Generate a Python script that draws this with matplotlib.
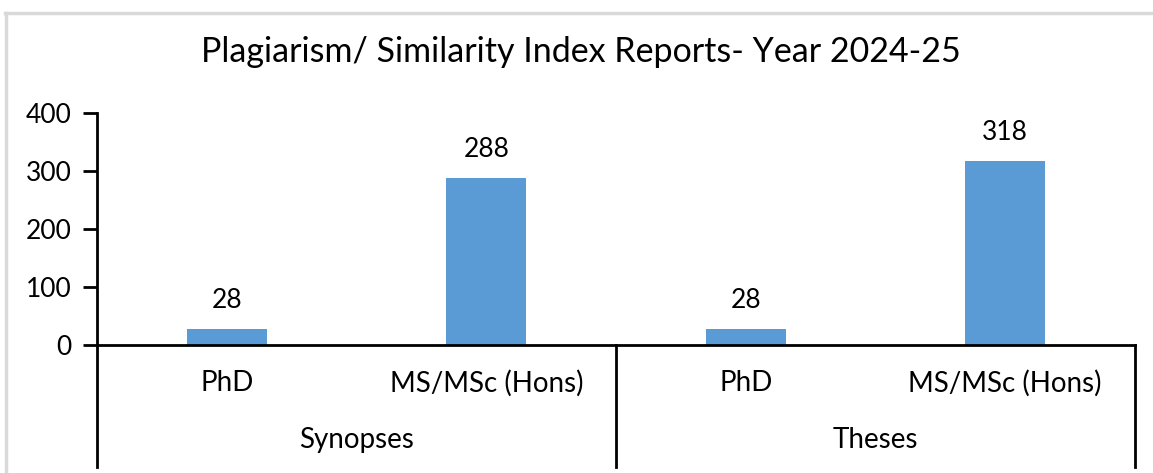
import matplotlib.pyplot as plt
from matplotlib.lines import Line2D

# data
groups = ['Synopses', 'Theses']
programmes = ['PhD', 'MS/MSc (Hons)', 'PhD', 'MS/MSc (Hons)']
counts = [28, 288, 28, 318]
yticks = [0, 100, 200, 300, 400]
title = 'Plagiarism/ Similarity Index Reports- Year 2024-25'

plt.rcParams['font.family'] = ['Lato', 'DejaVu Sans']

W, H = 1153, 473
fig = plt.figure(figsize=(W / 100, H / 100), dpi=100)

# light gray frame (top and left edges visible)
fig.add_artist(Line2D([5 / W, 1.0], [1 - 13.5 / H, 1 - 13.5 / H], color='#d9d9d9', lw=2.5))
fig.add_artist(Line2D([6 / W, 6 / W], [0, 1 - 13.5 / H], color='#d9d9d9', lw=2.5))

x0, x1 = 97, 1135
y0, y1 = 345, 113
ax = fig.add_axes([x0 / W, 1 - y0 / H, (x1 - x0) / W, (y0 - y1) / H])

xs = list(range(len(counts)))
bars = ax.bar(xs, counts, width=0.31, color='#5b9bd5')
for b, v in zip(bars, counts):
    ax.text(b.get_x() + b.get_width() / 2, v + 27, str(v), ha='center', va='bottom', fontsize=19)

ax.set_xlim(-0.5, len(counts) - 0.5)
ax.set_ylim(0, 400)
ax.set_yticks(yticks)
ax.tick_params(axis='y', length=10, width=2, labelsize=19, pad=8)
ax.set_xticks([])
for s in ['top', 'right']:
    ax.spines[s].set_visible(False)
ax.spines['left'].set_linewidth(2)
ax.spines['bottom'].set_linewidth(2)

tr = ax.get_xaxis_transform()
px = 1 / (y0 - y1)
for x, lab in zip(xs, programmes):
    ax.text(x, -(383 - y0) * px, lab, transform=tr, ha='center', va='center', fontsize=20)
for g, lab in enumerate(groups):
    ax.text(g * 2 + 0.5, -(440 - y0) * px, lab, transform=tr, ha='center', va='center', fontsize=20)
for x in [-0.5, 1.5, 3.5]:
    ax.plot([x, x], [0, -(467 - y0) * px], transform=tr, color='black', lw=2, clip_on=False)

fig.text(581 / W, 1 - 52 / H, title, ha='center', va='center', fontsize=24.5)

fig.savefig('out.png', dpi=100)
